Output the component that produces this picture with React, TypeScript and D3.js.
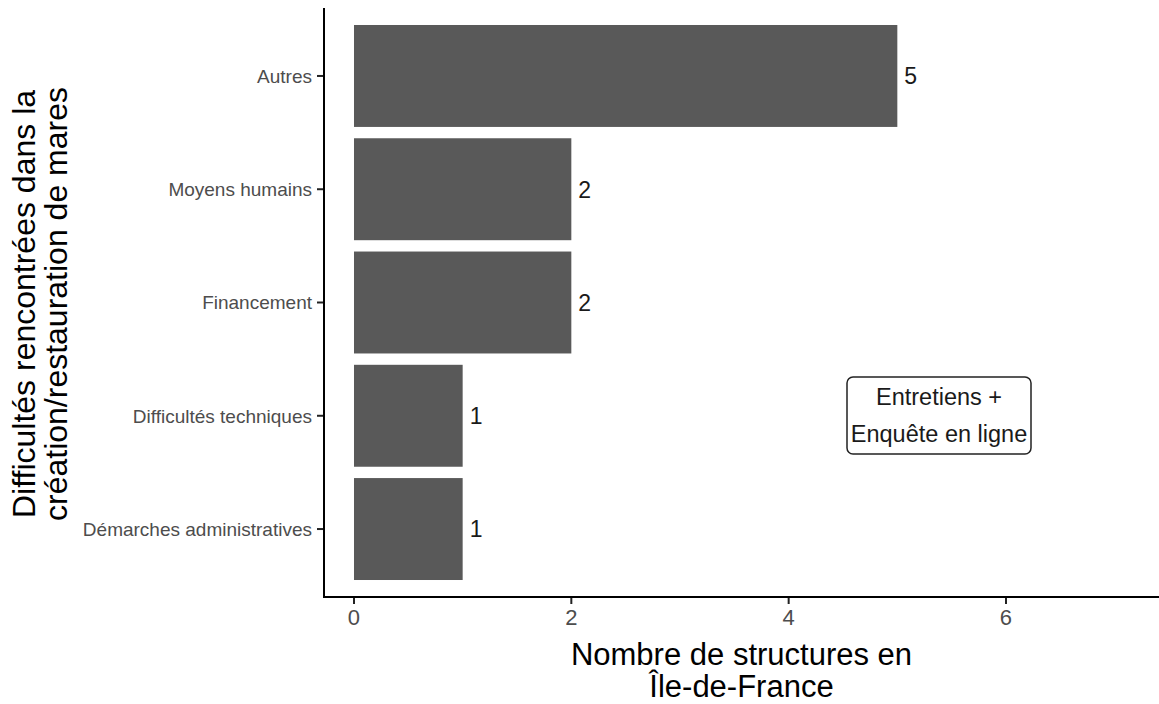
import React from "react";
import * as d3 from "d3";

const categories = ["Démarches administratives", "Difficultés techniques", "Financement", "Moyens humains", "Autres"];
const counts = [1, 1, 2, 2, 5];
const xTicks = [0, 2, 4, 6];
const yTitleLines = ["Difficultés rencontrées dans la", "création/restauration de mares"];
const xTitleLines = ["Nombre de structures en", "Île-de-France"];
const noteLines = ["Entretiens +", "Enquête en ligne"];

const W = 1159, H = 704;
const panel = { left: 324, right: 1159, top: 8, bottom: 597 };
const FONT = "'Liberation Sans', Arial, Helvetica, sans-serif";

export default function App() {
  const x = d3.scaleLinear().domain([-0.276, 7.408]).range([panel.left, panel.right]);
  const yPos = d3.scaleLinear().domain([0.4, categories.length + 0.6]).range([panel.bottom, panel.top]);
  const unit = Math.abs(yPos(1) - yPos(0));
  const barH = unit * 0.9;

  const noteX = 939;
  const noteY = 415;

  return (
    <svg width={W} height={H} style={{ position: "absolute", left: 0, top: 0, background: "#fff" }} fontFamily={FONT}>
      <rect x={0} y={0} width={W} height={H} fill="#fff" />
      {categories.map((c, i) => {
        const yc = yPos(i + 1);
        return (
          <g key={c}>
            <rect x={x(0)} y={yc - barH / 2} width={x(counts[i]) - x(0)} height={barH} fill="#595959" />
            <text x={x(counts[i]) + 7} y={yc} dy="0.36em" fontSize={23} fill="#1a1a1a">{counts[i]}</text>
            <line x1={panel.left - 7} x2={panel.left} y1={yc} y2={yc} stroke="#222" strokeWidth={2} />
            <text x={panel.left - 12} y={yc} dy="0.36em" textAnchor="end" fontSize={19} fill="#4d4d4d">{c}</text>
          </g>
        );
      })}
      {xTicks.map((t) => (
        <g key={t}>
          <line x1={x(t)} x2={x(t)} y1={panel.bottom} y2={panel.bottom + 7} stroke="#222" strokeWidth={2} />
          <text x={x(t)} y={panel.bottom + 28} textAnchor="middle" fontSize={22} fill="#4d4d4d">{t}</text>
        </g>
      ))}
      <line x1={panel.left} x2={panel.left} y1={panel.top} y2={panel.bottom + 1} stroke="#000" strokeWidth={2} />
      <line x1={panel.left - 1} x2={panel.right} y1={panel.bottom} y2={panel.bottom} stroke="#000" strokeWidth={2} />

      {xTitleLines.map((l, i) => (
        <text key={l} x={(panel.left + panel.right) / 2} y={665 + i * 32} textAnchor="middle" fontSize={31} fill="#000">{l}</text>
      ))}
      {yTitleLines.map((l, i) => (
        <text key={l} transform={`translate(${35 + i * 32},${304}) rotate(-90)`} textAnchor="middle" fontSize={32} fill="#000">{l}</text>
      ))}

      <rect x={noteX - 92} y={noteY - 38} width={184} height={77} rx={6} fill="#fff" stroke="#222" strokeWidth={1.5} />
      {noteLines.map((l, i) => (
        <text key={l} x={noteX} y={noteY - 10 + i * 37} textAnchor="middle" fontSize={23.5} fill="#1a1a1a">{l}</text>
      ))}
    </svg>
  );
}
